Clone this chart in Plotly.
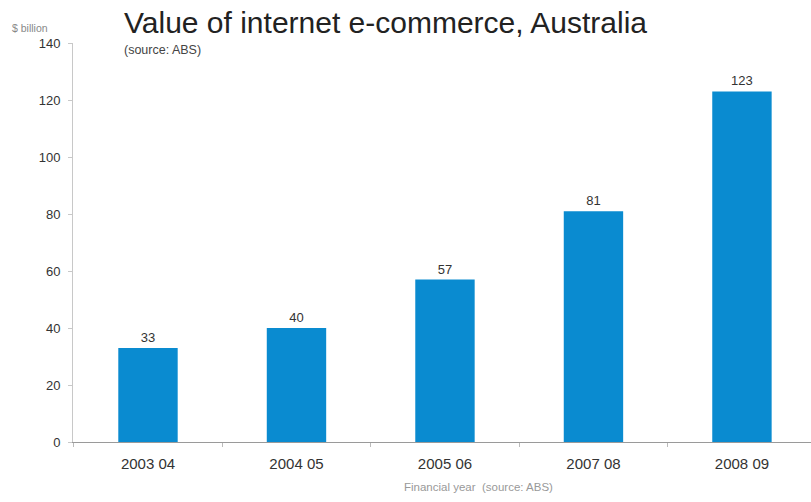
import plotly.graph_objects as go

# Financial years and e-commerce value ($ billion)
years = ["2003 04", "2004 05", "2005 06", "2007 08", "2008 09"]
values = [33, 40, 57, 81, 123]
y_ticks = [0, 20, 40, 60, 80, 100, 120, 140]

bar_color = "#0a8bd0"
axis_grey = "#9a9a9a"
font_family = "Liberation Sans, Arial, sans-serif"

PLOT_LEFT = 73
PLOT_W = 811 - PLOT_LEFT


def px_to_paper(px):
    return (px - PLOT_LEFT) / PLOT_W


fig = go.Figure(
    go.Bar(
        x=years,
        y=values,
        width=0.4,
        marker=dict(color=bar_color, line=dict(width=0)),
        text=values,
        texttemplate="%{text}",
        textposition="outside",
        cliponaxis=False,
        textfont=dict(family=font_family, size=13, color="#333333"),
    )
)

fig.update_layout(
    width=811,
    height=502,
    margin=dict(l=PLOT_LEFT, r=0, t=43, b=60),
    paper_bgcolor="white",
    plot_bgcolor="white",
    showlegend=False,
    font=dict(family=font_family, color="#333333"),
)

fig.update_xaxes(
    type="category",
    range=[-0.505, 4.465],
    showline=True,
    linecolor=axis_grey,
    linewidth=1,
    ticks="outside",
    tickson="boundaries",
    ticklen=4,
    tickcolor="#bbbbbb",
    showgrid=False,
    tickfont=dict(size=15, color="#333333"),
    ticklabelstandoff=8,
)

fig.update_yaxes(
    range=[0, 140],
    tickvals=y_ticks,
    showline=True,
    linecolor="#c8c8c8",
    linewidth=1,
    ticks="outside",
    ticklen=4,
    tickcolor="#c8c8c8",
    showgrid=False,
    zeroline=False,
    tickfont=dict(size=13, color="#333333"),
    ticklabelstandoff=5,
)

# Title, source line and unit label
fig.add_annotation(
    text="Value of internet e-commerce, Australia",
    xref="paper", yref="paper", x=px_to_paper(122), y=1.0,
    xanchor="left", yanchor="bottom", yshift=2,
    showarrow=False,
    font=dict(size=30, color="#222222", family=font_family),
)
fig.add_annotation(
    text="(source: ABS)",
    xref="paper", yref="paper", x=px_to_paper(122), y=1.0,
    xanchor="left", yanchor="top", yshift=2,
    showarrow=False,
    font=dict(size=12.5, color="#444444", family=font_family),
)
fig.add_annotation(
    text="$ billion",
    xref="paper", yref="paper", x=px_to_paper(10), y=1.0,
    xanchor="left", yanchor="middle", yshift=15,
    showarrow=False,
    font=dict(size=10.5, color="#888888", family=font_family),
)
# Axis caption below the year labels
fig.add_annotation(
    text="Financial year  (source: ABS)",
    xref="paper", yref="paper", x=px_to_paper(478), y=0.0,
    xanchor="center", yanchor="middle", yshift=-45,
    showarrow=False,
    font=dict(size=11.5, color="#999999", family=font_family),
)

fig.write_html("out.html")
